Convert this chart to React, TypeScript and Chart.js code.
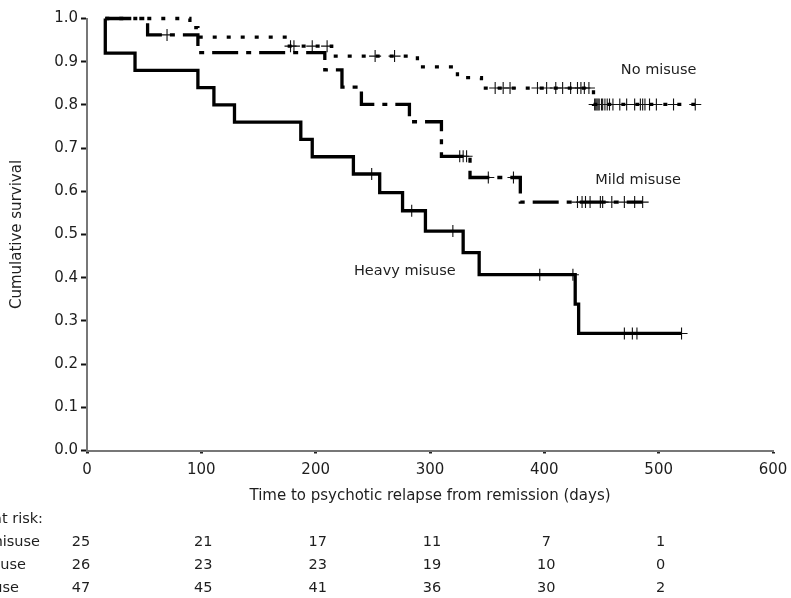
import { useEffect, useRef } from "react";
import { Chart, registerables } from "chart.js";

Chart.register(...registerables);

// ---- Data ----
const xTickValues = [0, 100, 200, 300, 400, 500, 600];

// Heavy misuse (solid)
const heavyTimes = [16, 16, 42, 97, 111, 129, 187, 197, 233, 256, 276, 296, 329, 343, 427, 430, 520];
const heavySurvival = [1, 0.92, 0.88, 0.84, 0.8, 0.76, 0.72, 0.68, 0.64, 0.597, 0.555, 0.508, 0.458, 0.407, 0.339, 0.271, 0.271];
const heavyCensored = [249, 284, 320, 396, 425, 470, 477, 481, 520];

// Mild misuse (dash-dot)
const mildTimes = [16, 53, 97, 208, 223, 240, 282, 310, 335, 379, 486];
const mildSurvival = [1, 0.962, 0.921, 0.881, 0.841, 0.801, 0.761, 0.681, 0.632, 0.575, 0.575];
const mildCensored = [70, 326, 329, 332, 351, 373, 429, 433, 436, 440, 449, 451, 459, 470, 479, 486];

// No misuse (dotted)
const noTimes = [16, 90, 97, 175, 214, 289, 324, 345, 443, 532];
const noSurvival = [1, 0.979, 0.957, 0.936, 0.913, 0.888, 0.863, 0.839, 0.801, 0.801];
const noCensored = [
  178, 181, 197, 210, 252, 269, 357, 364, 370, 394, 402, 410, 416, 423, 429, 432, 435, 439,
  444, 445, 446, 447, 448, 450, 451, 453, 455, 457, 460, 466, 472, 479, 484, 486, 488, 492, 498,
  513, 532,
];

// Curve labels (data coordinates)
const curveLabels = ["No misuse", "Mild misuse", "Heavy misuse"];
const curveLabelX = [500, 482, 278];
const curveLabelY = [0.88, 0.626, 0.416];

// Number at risk table
const riskHeader = "Number at risk:";
const riskRowLabels = ["Heavy misuse", "Mild misuse", "No misuse"];
const riskTimes = [0, 100, 200, 300, 400, 500];
const heavyRisk = [25, 21, 17, 11, 7, 1];
const mildRisk = [26, 23, 23, 19, 10, 0];
const noRisk = [47, 45, 41, 36, 30, 2];

const FONT_FAMILY = "'DejaVu Sans', sans-serif";
const TEXT_COLOR = "#1e1e1e";

function stepAt(times: number[], values: number[], t: number) {
  let v = values[0];
  for (let i = 0; i < times.length; i++) {
    if (times[i] <= t) v = values[i];
  }
  return v;
}

function mkLine(times: number[], vals: number[], dash: number[]) {
  return {
    data: times.map((t, i) => ({ x: t, y: vals[i] })),
    showLine: true,
    stepped: "before" as const,
    borderColor: "#000",
    backgroundColor: "#000",
    borderWidth: 3.3,
    borderDash: dash,
    borderCapStyle: "butt" as const,
    borderJoinStyle: "miter" as const,
    pointRadius: 0,
    pointHoverRadius: 0,
    fill: false,
    clip: false as const,
  };
}

function mkCensor(ctimes: number[], times: number[], vals: number[]) {
  return {
    data: ctimes.map((t) => ({ x: t, y: stepAt(times, vals, t) })),
    showLine: false,
    pointStyle: "cross" as const,
    pointRadius: 6,
    pointHoverRadius: 6,
    borderColor: "#111",
    backgroundColor: "#111",
    pointBorderWidth: 1.1,
    borderWidth: 1.1,
    clip: false as const,
  };
}

const overlayPlugin = {
  id: "overlayText",
  afterDraw(chart: any) {
    const ctx = chart.ctx as CanvasRenderingContext2D;
    const xs = chart.scales.x;
    const ys = chart.scales.y;
    ctx.save();
    ctx.font = `14.5px ${FONT_FAMILY}`;
    ctx.fillStyle = TEXT_COLOR;
    ctx.textBaseline = "middle";
    ctx.textAlign = "center";
    curveLabels.forEach((lab, i) => {
      ctx.fillText(lab, xs.getPixelForValue(curveLabelX[i]), ys.getPixelForValue(curveLabelY[i]));
    });

    // risk table
    const rowY = [519, 542, 565, 588];
    const labelEnds = [43, 40, 26, 19];
    ctx.textAlign = "right";
    ctx.fillText(riskHeader, labelEnds[0], rowY[0]);
    riskRowLabels.forEach((lab, i) => ctx.fillText(lab, labelEnds[i + 1], rowY[i + 1]));
    ctx.textAlign = "center";
    const rows = [heavyRisk, mildRisk, noRisk];
    rows.forEach((row, r) => {
      row.forEach((n, j) => {
        const px = xs.getPixelForValue(riskTimes[j]) + (j === 0 ? -6 : 2);
        ctx.fillText(String(n), px, rowY[r + 1]);
      });
    });
    ctx.restore();
  },
};

export default function App() {
  const ref = useRef<HTMLCanvasElement>(null);
  useEffect(() => {
    const canvas = ref.current;
    if (!canvas) return;
    const font = { family: FONT_FAMILY, size: 15 };
    const chart = new Chart(canvas, {
      type: "scatter",
      data: {
        datasets: [
          mkLine(noTimes, noSurvival, [4, 10]),
          mkLine(mildTimes, mildSurvival, [26, 8, 5, 8]),
          mkLine(heavyTimes, heavySurvival, []),
          mkCensor(noCensored, noTimes, noSurvival),
          mkCensor(mildCensored, mildTimes, mildSurvival),
          mkCensor(heavyCensored, heavyTimes, heavySurvival),
        ] as any,
      },
      options: {
        responsive: false,
        animation: false,
        devicePixelRatio: 1,
        events: [],
        layout: { padding: { top: 18.5, right: 18, left: 0, bottom: 0 } },
        plugins: { legend: { display: false }, tooltip: { enabled: false } },
        scales: {
          x: {
            type: "linear",
            min: 0,
            max: 600,
            afterBuildTicks: (s: any) => {
              s.ticks = xTickValues.map((v) => ({ value: v }));
            },
            ticks: { color: TEXT_COLOR, font, padding: 8, maxRotation: 0, autoSkip: false },
            grid: { drawOnChartArea: false, tickLength: 3, tickWidth: 3, tickColor: "#222" },
            border: { color: "#777", width: 2 },
            title: {
              display: true,
              text: "Time to psychotic relapse from remission (days)",
              color: TEXT_COLOR,
              font,
              padding: { top: 0, bottom: 93 },
            },
            afterFit: (s: any) => {
              s.height = 147.5;
              s.paddingLeft = 0;
              s.paddingRight = 0;
            },
          },
          y: {
            type: "linear",
            min: 0,
            max: 1,
            ticks: {
              stepSize: 0.1,
              color: TEXT_COLOR,
              font,
              padding: 3,
              callback: (v: any) => Number(v).toFixed(1),
            },
            grid: { drawOnChartArea: false, tickLength: 6, tickWidth: 2, tickColor: "#111" },
            border: { color: "#777", width: 2 },
            title: {
              display: true,
              text: "Cumulative survival",
              color: TEXT_COLOR,
              font,
              padding: { top: 8, bottom: 0 },
            },
            afterFit: (s: any) => {
              s.width = 87;
              s.paddingTop = 0;
              s.paddingBottom = 0;
            },
          },
        },
      } as any,
      plugins: [overlayPlugin],
    });
    return () => chart.destroy();
  }, []);
  return (
    <canvas
      ref={ref}
      width={791}
      height={598}
      style={{ position: "fixed", left: 0, top: 0, width: 791, height: 598 }}
    />
  );
}
